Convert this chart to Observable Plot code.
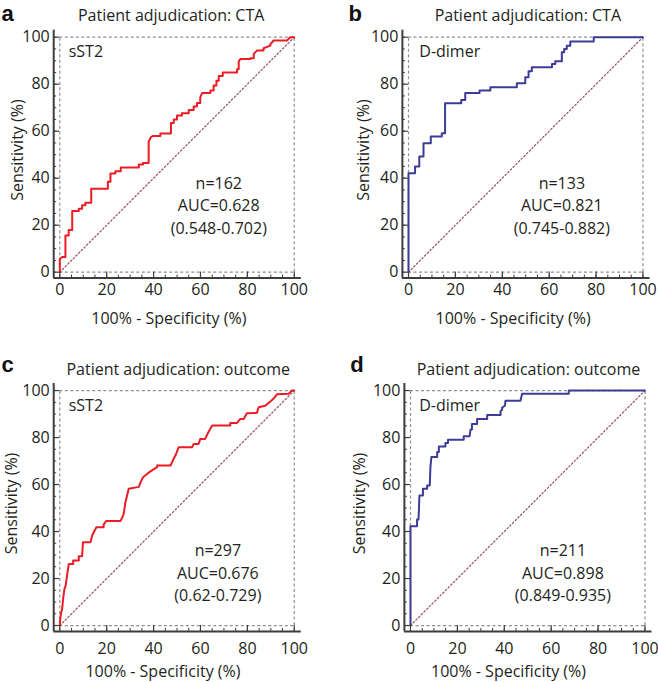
<!DOCTYPE html>
<html><head><meta charset="utf-8">
<script src="https://cdn.jsdelivr.net/npm/d3@7"></script>
<script src="https://cdn.jsdelivr.net/npm/@observablehq/plot@0.6"></script>
<style>
body{margin:0;background:#fff;}
#wrap{position:relative;width:658px;height:682px;overflow:hidden;}
</style></head><body><div id="wrap"></div>
<script>
// ---------- data ----------
const letters = ["a", "b", "c", "d"];
const titles = ["Patient adjudication: CTA", "Patient adjudication: CTA", "Patient adjudication: outcome", "Patient adjudication: outcome"];
const markers = ["sST2", "D-dimer", "sST2", "D-dimer"];
const nValues = [162, 133, 297, 211];
const aucValues = ["0.628", "0.821", "0.676", "0.898"];
const ciValues = ["(0.548-0.702)", "(0.745-0.882)", "(0.62-0.729)", "(0.849-0.935)"];
const xLabel = "100% - Specificity (%)";
const yLabel = "Sensitivity (%)";
const xTicks = [0, 20, 40, 60, 80, 100];
const yTicks = [0, 20, 40, 60, 80, 100];
const minorTicks = [0, 5, 10, 15, 20, 25, 30, 35, 40, 45, 50, 55, 60, 65, 70, 75, 80, 85, 90, 95, 100];
const chance = [0, 100];

// ROC curves: [100% - specificity, sensitivity]
const rocA = [[0,0],[0,5.5],[1,6.5],[2.4,6.5],[2.4,15.6],[3.8,15.6],[3.8,18],[5.3,18],[5.3,26],[8.1,26],[8.1,27],[9.5,27],[9.5,28.5],[10.9,28.5],[10.9,29.5],[13.4,29.5],[13.4,35.5],[20.5,35.5],[20.5,38.5],[21.6,38.5],[21.6,42],[23.7,42],[23.7,43],[26,43],[26,44.5],[33.7,44.5],[33.7,45.8],[35.5,45.8],[35.5,46.5],[37.9,46.5],[37.9,55.5],[38.9,57.5],[39.8,58],[42.9,58],[42.9,59],[47.4,59],[47.4,63.5],[48.6,63.5],[48.6,65],[50,65],[50,66.7],[52.1,66.7],[52.1,67.6],[55,67.6],[55,69],[57.1,69],[57.1,70.5],[58.5,70.5],[58.5,72],[59.9,72],[59.9,74.4],[60.7,76.2],[64.2,76.2],[64.2,77.3],[65.6,77.3],[65.6,79.4],[66.8,79.4],[66.8,81.5],[67.8,81.5],[67.8,83.5],[69.5,83.5],[69.5,85],[75.6,85],[75.6,86.4],[76.3,86.4],[76.3,89.6],[77,90.7],[81.3,90.7],[81.3,91],[82.7,91],[82.7,92.9],[84.1,94.3],[86.9,94.3],[86.9,95.3],[89.8,96.4],[89.8,97],[91.2,98.6],[96.9,98.6],[98.3,100],[100,100]];
const rocB = [[0,0],[0,42.1],[2.8,42.1],[2.8,45],[4.6,45],[4.6,49.2],[6.4,49.2],[6.4,54.9],[9.5,54.9],[9.5,57.7],[14.2,57.7],[14.2,59.1],[15.6,59.1],[15.6,71.9],[22.5,71.9],[22.5,73.3],[24.2,73.3],[24.2,76.2],[30.3,76.2],[30.3,77.3],[34.9,77.3],[34.9,78.7],[46.2,78.7],[46.2,80.4],[49.8,80.4],[49.8,83],[51.2,83],[51.2,85.5],[52.6,85.5],[52.6,87.2],[61.2,87.2],[61.2,88.6],[62.6,88.6],[62.6,89.8],[65.4,89.8],[65.4,93.6],[66.4,93.6],[66.4,95],[67.5,95],[67.5,96.4],[69,96.4],[69,98.2],[79,98.2],[79,100],[100,100]];
const rocC = [[0,0],[0.2,3],[0.6,5.7],[1,7],[1.4,11.3],[2,15.6],[2.5,17],[3.1,21.3],[3.85,26.2],[5.7,26.2],[5.7,27.7],[8.1,27.7],[8.1,29.5],[9.5,29.5],[9.9,35.4],[13.1,35.4],[13.8,38.3],[14.5,39.7],[15.6,41.8],[18.7,41.8],[18.7,43],[19.9,44.5],[25.9,44.5],[26.6,45.9],[27.2,47.3],[28,52.5],[29.4,58.2],[33.7,59],[34.5,61],[35.5,63.1],[37.2,64.5],[38.5,65.5],[41.5,67.4],[41.5,68.1],[47.2,68.1],[48.2,70.2],[49.6,73],[50.7,75.9],[56.4,75.9],[57.1,77.3],[59.2,77.3],[59.9,79.4],[62,79.4],[63,81.6],[64.2,83.7],[65,85.1],[72.7,85.1],[72.7,86.2],[75.6,86.2],[77,87.9],[78.4,87.9],[79.8,90.3],[84.1,90.5],[84.8,92.9],[87.6,93.5],[89.8,95.3],[91.2,96.6],[92.6,98.4],[97.6,98.6],[99,100],[100,100]];
const rocD = [[0,0],[0,42.3],[2.8,42.3],[2.8,45.1],[3.4,45.1],[3.6,49.4],[3.8,55.3],[5.3,55.3],[5.3,58.2],[7.1,58.2],[7.1,59.6],[8.2,59.6],[8.5,67.4],[8.9,71.7],[11.4,71.7],[11.4,73.8],[12.1,73.8],[12.1,76.2],[14.9,76.2],[14.9,77.7],[16,77.7],[16,79.1],[22.7,79.1],[22.7,80.5],[25.2,80.5],[25.6,83.4],[26.2,83.4],[26.2,85.8],[28.4,85.8],[28.4,87.9],[32.7,87.9],[32.7,89.6],[38.4,89.6],[38.4,91.2],[39.1,91.9],[39.1,92.8],[40.3,93.6],[40.5,95.7],[46.9,95.7],[47.6,98.6],[67.5,98.6],[67.5,100],[100,100]];
const curves = [rocA, rocB, rocC, rocD];
const curveColors = ["#ec1c24", "#3c3c96", "#ec1c24", "#3c3c96"];

// ---------- layout ----------
const xDom = [-2.6, 103];
const yDom = [-2.5, 103];
const FW = 247.6, FH = 247.9;
const layout = [
  {left: 0,   top: 0,   width: 329, height: 330, ml: 53.2, mt: 29.65, xPad: 6,  titleX: 47.5, titleDy: -14.2, letDx: -52.2, letDy: -25.2, ylabDx: -35.7, xlabX: 46.5, xlabDy: 40.4, nameX: 3.8, statX: 67.8, statY: [37.6, 28.2, 18.6]},
  {left: 329, top: 0,   width: 329, height: 330, ml: 72.9, mt: 29.65, xPad: 6,  titleX: 50.9, titleDy: -14.2, letDx: -53.9, letDy: -25.2, ylabDx: -38.6, xlabX: 44.6, xlabDy: 40.6, nameX: 4.6, statX: 65.4, statY: [37.6, 28.2, 18.6]},
  {left: 0,   top: 330, width: 329, height: 352, ml: 53.2, mt: 53,    xPad: 11, titleX: 50.5, titleDy: -13.5, letDx: -52.2, letDy: -26.9, ylabDx: -42,   xlabX: 44,   xlabDy: 40.8, nameX: 3.8, statX: 67.4, statY: [31.9, 22, 12.8]},
  {left: 329, top: 330, width: 329, height: 352, ml: 74.9, mt: 53,    xPad: 11, titleX: 50.3, titleDy: -13.5, letDx: -54.2, letDy: -26.9, ylabDx: -44.2, xlabX: 41.8, xlabDy: 40.8, nameX: 3.7, statX: 65,   statY: [31.9, 22, 12.8]}
];

const axisColor = "#3d3d3d";
const dashColor = "#8f8f8f";
const font = '"Open Sans", sans-serif';
const wrap = document.getElementById("wrap");

layout.forEach((p, i) => {
  const mr = p.width - p.ml - FW;
  const mb = p.height - p.mt - FH;
  const stats = [`n=${nValues[i]}`, `AUC=${aucValues[i]}`, ciValues[i]];
  const chart = Plot.plot({
    width: p.width, height: p.height,
    marginLeft: p.ml, marginRight: mr, marginTop: p.mt, marginBottom: mb,
    x: {domain: xDom}, y: {domain: yDom},
    style: {fontFamily: font, fontSize: "16px", color: "#231f20", background: "transparent", overflow: "visible"},
    marks: [
      Plot.ruleX([0, 100], {y1: 0, y2: 100, stroke: dashColor, strokeWidth: 1.2, strokeDasharray: "3,2.5"}),
      Plot.ruleY([0, 100], {x1: 0, x2: 100, stroke: dashColor, strokeWidth: 1.2, strokeDasharray: "3,2.5"}),
      Plot.line(chance, {x: d => d, y: d => d, stroke: "#98505e", strokeWidth: 1.2, strokeDasharray: "1.6,2.2"}),
      Plot.line(curves[i], {x: d => d[0], y: d => d[1], stroke: curveColors[i], strokeWidth: 2}),
      Plot.tickX(minorTicks, {x: d => d, insetTop: FH - 3, stroke: axisColor, strokeWidth: 1}),
      Plot.tickX(xTicks, {x: d => d, insetTop: FH - 6, stroke: axisColor, strokeWidth: 1.2}),
      Plot.tickY(minorTicks, {y: d => d, insetRight: FW - 3, stroke: axisColor, strokeWidth: 1}),
      Plot.tickY(yTicks, {y: d => d, insetRight: FW - 6, stroke: axisColor, strokeWidth: 1.2}),
      Plot.ruleX([xDom[0]], {stroke: axisColor, strokeWidth: 2}),
      Plot.ruleY([yDom[0]], {stroke: axisColor, strokeWidth: 2}),
      Plot.axisX({ticks: xTicks, tickSize: 0, tickPadding: p.xPad, fontSize: 16, label: null}),
      Plot.axisY({ticks: yTicks, tickSize: 0, tickPadding: 4, fontSize: 16, label: null}),
      Plot.text([markers[i]], {x: p.nameX, y: 93.6, textAnchor: "start", fontSize: 16}),
      Plot.text(stats, {x: p.statX, y: (d, j) => p.statY[j], fontSize: 16}),
      Plot.text([titles[i]], {x: p.titleX, frameAnchor: "top", lineAnchor: "middle", dy: p.titleDy, fontSize: 16}),
      Plot.text([letters[i]], {frameAnchor: "top-left", textAnchor: "start", lineAnchor: "top", dx: p.letDx, dy: p.letDy, fontSize: 22, fontWeight: "bold", fontFamily: '"Liberation Sans", Arial, sans-serif', fill: "#111"}),
      Plot.text([yLabel], {frameAnchor: "left", textAnchor: "middle", lineAnchor: "middle", rotate: -90, dx: p.ylabDx, dy: -4, fontSize: 16}),
      Plot.text([xLabel], {x: p.xlabX, frameAnchor: "bottom", lineAnchor: "middle", dy: p.xlabDy, fontSize: 16})
    ]
  });
  const holder = document.createElement("div");
  holder.style.cssText = `position:absolute;left:${p.left}px;top:${p.top}px;width:${p.width}px;height:${p.height}px;`;
  holder.append(chart);
  wrap.append(holder);
});
</script></body></html>
